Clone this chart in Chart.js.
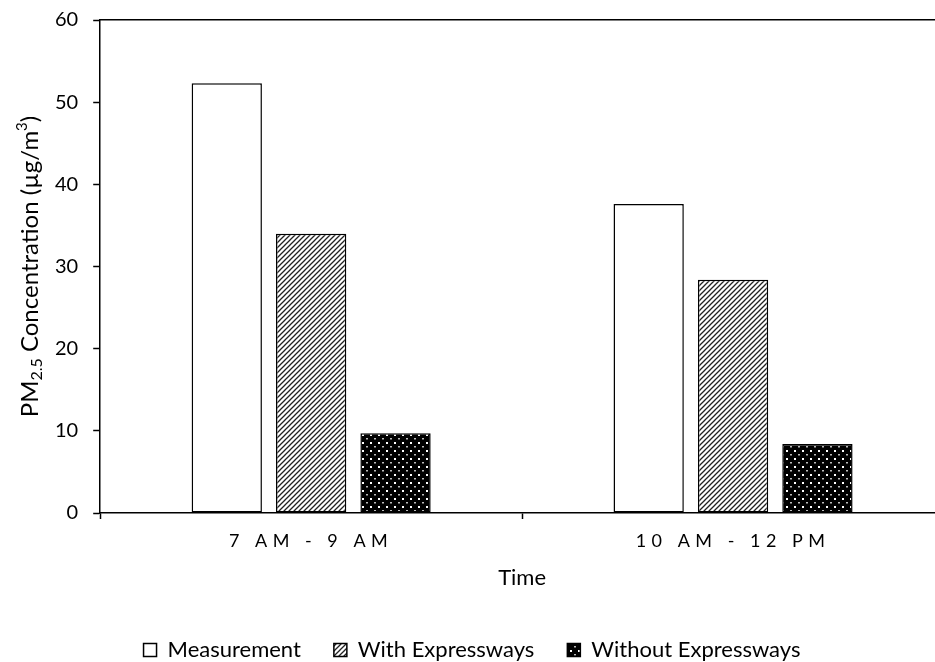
<!DOCTYPE html>
<html>
<head>
<meta charset="utf-8">
<title>PM2.5 Concentration</title>
<script src="https://cdn.jsdelivr.net/npm/chart.js@4"></script>
<style>
    html, body { margin: 0; padding: 0; background: #fff; overflow: hidden; }
    #wrap { position: relative; width: 944px; height: 662px; }
</style>
</head>
<body>
<div id="wrap"><canvas id="chart"></canvas></div>
<script>
// ─── Data ────────────────────────────────────────────────────────────────
const categories = ['7 AM - 9 AM', '10 AM - 12 PM'];
const measurement = [52.3, 37.6];
const withExpressways = [34.0, 28.4];
const withoutExpressways = [9.7, 8.4];
const seriesNames = ['Measurement', 'With Expressways', 'Without Expressways'];
const yMin = 0;
const yMax = 60;
const yStep = 10;

const FONT = 'Lato, "Open Sans", sans-serif';

// ─── Fill patterns ───────────────────────────────────────────────────────
const makeHatch = () => {
    const c = document.createElement('canvas');
    c.width = 5; c.height = 5;
    const g = c.getContext('2d');
    g.fillStyle = '#fff';
    g.fillRect(0, 0, 5, 5);
    g.strokeStyle = '#222';
    g.lineWidth = 1.3;
    g.beginPath();
    g.moveTo(-1, 6); g.lineTo(6, -1);
    g.moveTo(-1, 1); g.lineTo(1, -1);
    g.moveTo(4, 6); g.lineTo(6, 4);
    g.stroke();
    return g.createPattern(c, 'repeat');
};

const makeDots = () => {
    const c = document.createElement('canvas');
    c.width = 8; c.height = 8;
    const g = c.getContext('2d');
    g.fillStyle = '#000';
    g.fillRect(0, 0, 8, 8);
    g.fillStyle = '#fff';
    g.fillRect(2, 2, 2, 2);
    g.fillStyle = '#bbb';
    g.fillRect(6, 6, 2, 1.5);
    return g.createPattern(c, 'repeat');
};

// ─── Plugins ─────────────────────────────────────────────────────────────
// y axis title with subscript / superscript
const yTitlePlugin = {
    id: 'yTitle',
    afterDraw(chart) {
        const { ctx, chartArea } = chart;
        const parts = [
            { t: 'PM', size: 24, dy: 0 },
            { t: '2.5', size: 16, dy: 7 },
            { t: ' Concentration (µg/m', size: 24, dy: 0 },
            { t: '3', size: 15, dy: -8 },
            { t: ')', size: 24, dy: 0 }
        ];
        ctx.save();
        let total = 0;
        parts.forEach(p => {
            ctx.font = `${p.size}px ${FONT}`;
            p.w = ctx.measureText(p.t).width;
            total += p.w;
        });
        ctx.translate(30, (chartArea.top + chartArea.bottom) / 2);
        ctx.rotate(-Math.PI / 2);
        ctx.fillStyle = '#000';
        ctx.textBaseline = 'middle';
        ctx.textAlign = 'left';
        let x = -total / 2;
        parts.forEach(p => {
            ctx.font = `${p.size}px ${FONT}`;
            ctx.fillText(p.t, x, p.dy);
            x += p.w;
        });
        ctx.restore();
    }
};

// spaced-out category labels, and a tighter legend box
const layoutTweaks = {
    id: 'layoutTweaks',
    beforeLayout(chart) {
        const legend = chart.legend;
        if (legend && !legend._patched) {
            const fit = legend.fit;
            legend.fit = function () {
                fit.call(this);
                this.height = 56;
            };
            legend._patched = true;
        }
    },
    afterLayout(chart) {
        const sx = chart.scales.x;
        if (sx && !sx._patched) {
            const draw = sx.drawLabels;
            sx.drawLabels = function (area) {
                this.ctx.save();
                this.ctx.letterSpacing = '5.5px';
                draw.call(this, area);
                this.ctx.restore();
            };
            sx._patched = true;
        }
    }
};

// ─── Chart ───────────────────────────────────────────────────────────────
const ctx = document.getElementById('chart').getContext('2d');
new Chart(ctx, {
    type: 'bar',
    data: {
        labels: categories,
        datasets: [
            { label: seriesNames[0], data: measurement, backgroundColor: '#fff' },
            { label: seriesNames[1], data: withExpressways, backgroundColor: makeHatch() },
            { label: seriesNames[2], data: withoutExpressways, backgroundColor: makeDots() }
        ].map(d => Object.assign(d, {
            borderColor: '#000',
            borderWidth: 1.5,
            borderSkipped: false,
            categoryPercentage: 0.6,
            barPercentage: 0.833
        }))
    },
    options: {
        responsive: true,
        maintainAspectRatio: false,
        animation: false,
        devicePixelRatio: 1,
        layout: { padding: { left: 0, top: 20, right: 0, bottom: 0 } },
        scales: {
            x: {
                grid: { display: true, drawOnChartArea: false, drawTicks: true, tickLength: 6, tickColor: '#000', tickWidth: 1.5, offset: true },
                border: { display: true, color: '#000', width: 1.5 },
                ticks: { color: '#000', font: { family: FONT, size: 18 }, padding: 11, maxRotation: 0 },
                title: { display: true, text: 'Time', color: '#000', font: { family: FONT, size: 22 }, padding: { top: 2, bottom: 15 } }
            },
            x2: {
                position: 'top',
                type: 'category',
                labels: categories,
                grid: { display: false, drawTicks: false },
                border: { display: true, color: '#000', width: 1.5 },
                ticks: { display: false }
            },
            y: {
                min: yMin,
                max: yMax,
                ticks: { stepSize: yStep, color: '#000', font: { family: FONT, size: 20 }, padding: 15 },
                grid: { display: true, drawOnChartArea: false, drawTicks: true, tickLength: 7, tickColor: '#000', tickWidth: 1.5 },
                border: { display: true, color: '#000', width: 1.5 },
                afterFit(scale) {
                    // room for the rich y title drawn by the plugin
                    scale.width += 40;
                    scale.paddingTop = 6;
                }
            }
        },
        plugins: {
            legend: {
                position: 'bottom',
                labels: {
                    color: '#000',
                    font: { family: FONT, size: 22 },
                    boxWidth: 13,
                    boxHeight: 13,
                    padding: 33
                }
            },
            tooltip: { enabled: false }
        }
    },
    plugins: [yTitlePlugin, layoutTweaks]
});
</script>
</body>
</html>
